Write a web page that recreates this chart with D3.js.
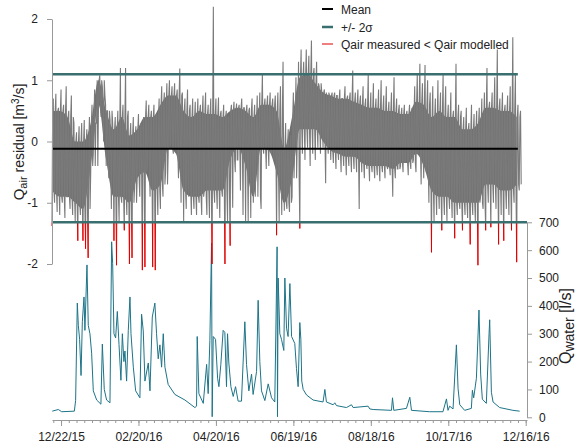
<!DOCTYPE html>
<html><head><meta charset="utf-8">
<script src="https://cdn.jsdelivr.net/npm/d3@7"></script>
<style>
body{margin:0;background:#fff}
svg{display:block}
text{font-family:"Liberation Sans",Arial,sans-serif;fill:#222}
</style>
</head><body>
<svg id="chart" width="577" height="448"></svg>
<script>
// ---------- data ----------
const startDate = "2015-12-15";      // first day of the record
const endDate = "2016-12-17";
const residStepDays = 2;             // one low/high pair per 2 days
const residHi = [0.7,0.78,0.55,0.85,0.6,0.9,0.5,0.75,0.3,0.15,
  0.25,0.3,0.35,0.2,0.4,0.6,0.85,1.0,1.08,0.9,
  0.75,0.5,0.35,0.3,0.4,0.5,1.2,0.6,1.2,0.5,
  0.3,0.4,0.25,0.45,0.3,0.4,0.67,0.6,0.5,0.6,
  0.45,0.7,0.9,0.8,0.95,1.0,0.9,0.95,0.85,1.19,
  0.8,0.7,0.85,0.6,0.7,0.65,0.7,0.6,0.75,0.8,
  0.6,0.7,2.2,0.7,0.72,0.5,0.6,0.5,0.4,0.6,
  0.65,0.62,0.6,0.7,0.55,0.6,0.55,0.7,0.6,0.75,
  0.8,1.1,0.7,0.75,0.8,0.7,0.75,0.8,0.9,1.3,
  0.3,0.2,0.1,0.8,1.05,1.3,1.5,1.3,1.5,1.4,
  1.65,1.2,1.3,0.9,0.8,0.85,0.7,0.75,0.8,0.8,
  0.75,0.85,0.7,0.9,0.75,0.8,1.16,0.8,0.85,0.75,
  0.9,0.7,1.1,0.8,0.95,0.7,0.85,1.0,0.75,0.9,
  0.65,0.8,1.05,0.7,0.6,0.55,0.6,0.5,0.6,0.55,
  0.9,1.1,1.27,0.95,1.25,1.0,0.8,0.9,0.7,1.0,
  0.8,1.1,0.9,0.6,0.8,0.5,1.27,0.6,0.5,0.4,
  0.55,0.3,0.6,0.45,0.5,0.55,0.7,0.8,1.2,0.65,
  0.8,1.05,1.5,0.7,0.8,0.6,0.75,0.9,1.7,1.1,
  0.6,0.5];
const residLo = [-1.38,-1.0,-1.15,-1.2,-1.0,-1.25,-0.9,-1.1,-1.2,-1.3,
  -1.62,-1.2,-1.62,-1.75,-1.9,-0.5,-0.2,0.3,0.55,0.4,
  0.0,-0.4,-0.6,-1.1,-1.62,-2.02,-1.3,-1.0,-1.45,-1.2,
  -2.0,-1.9,-0.75,-0.6,-0.9,-2.1,-2.05,-0.4,-0.9,-2.05,
  -2.1,-1.2,-1.1,-0.9,-0.5,-0.2,0.0,-0.2,-0.1,-0.6,
  -1.0,-1.3,-1.1,-0.9,-1.2,-1.1,-1.2,-1.0,-1.2,-0.8,
  -1.2,-1.25,-2.0,-1.0,-1.1,-1.25,-0.9,-2.0,-1.3,-1.7,
  -1.08,-0.5,-0.3,-0.8,-1.2,-1.3,-1.3,-1.25,-1.0,-0.3,
  -0.1,-1.1,-0.2,-0.45,-0.4,-0.2,-0.3,-1.53,-1.3,-1.2,
  -1.13,-1.1,-1.15,-0.9,-0.1,0.0,-1.42,-0.2,-0.3,-0.1,
  -0.4,-0.2,-0.3,-0.1,-0.2,-0.1,-0.68,-0.2,-0.3,-0.35,
  -0.45,-0.3,-0.5,-0.4,-0.55,-0.4,-0.5,-0.45,-0.5,-1.1,
  -0.5,-0.6,-0.45,-0.65,-0.5,-0.6,-0.55,-0.65,-0.5,-0.6,
  -0.45,-0.55,-0.9,-0.6,-0.45,-0.4,-0.5,-0.3,-0.55,-0.45,
  -0.3,-0.5,-0.1,-0.7,-0.6,-0.5,-1.0,-1.81,-1.3,-1.2,
  -1.1,-1.45,-1.2,-1.3,-1.1,-1.25,-1.58,-1.2,-1.1,-1.45,
  -1.2,-1.25,-1.68,-1.2,-1.3,-2.02,-0.9,-1.1,-1.45,-1.0,
  -1.4,-1.0,-1.1,-1.68,-1.2,-1.62,-1.1,-1.2,-1.45,-1.0,
  -1.97,-0.8];
// dense core of the residual cloud, one pair per 6 days
const coreStepDays = 6;
const coreHi = [0.5,0.5,0.4,0.0,0.0,0.3,1.0,0.5,0.2,0.4,
  0.1,0.2,0.4,0.4,0.6,0.75,0.75,0.5,0.4,0.5,
  0.45,0.45,0.4,0.5,0.55,0.5,0.4,0.6,0.6,0.5,
  -0.1,0.4,1.05,1.1,0.95,0.8,0.75,0.7,0.7,0.65,
  0.6,0.55,0.55,0.5,0.5,0.45,0.45,0.65,0.6,0.4,
  0.5,0.4,0.4,0.2,0.2,0.3,0.55,0.55,0.5,0.5,0.4];
const coreLo = [-0.8,-0.9,-0.9,-1.0,-1.1,-0.4,0.6,-0.3,-0.9,-0.9,
  -1.0,-0.6,-0.5,-0.8,-0.7,-0.1,-0.2,-0.8,-0.9,-0.9,
  -0.8,-0.8,-0.8,-0.3,-0.1,-0.4,-0.9,-0.1,-0.15,-0.5,
  -1.0,-0.6,0.2,0.2,0.2,0.0,-0.15,-0.2,-0.25,-0.25,
  -0.35,-0.4,-0.4,-0.4,-0.45,-0.35,-0.35,-0.2,-0.4,-0.8,
  -0.9,-0.9,-1.0,-1.0,-1.0,-1.0,-0.7,-0.7,-0.8,-0.8,-0.7];
const residMean = -0.12;
const residUpper = 1.10;   // mean + 2 sigma
const residLower = -1.32;  // mean - 2 sigma

// water discharge: days since startDate and value [l/s]
const waterDay = [0.2,4.9,7.5,17.3,18.3,19.6,20.4,21.4,22.5,23.5,24.8,25.5,27.1,28.1,29.4,30.7,32,34.6,37.9,39,
  40.5,42.3,44.9,46.2,47,48,49.3,50.6,51.9,53.4,54.5,55.7,56.5,57.8,59.1,60.4,61.2,63,64.8,68.1,
  69.4,70.7,72,74.6,75.9,77.7,79.7,81,82.3,83.6,84.9,86.2,87.5,90,95.2,103,110.7,112,112.5,113.8,
  117.2,119.8,121,122.3,123.6,124.1,124.9,126.7,128.3,129.3,130.8,132.6,133.9,135.2,136,137,138.6,140.4,142.2,144.2,
  146.8,149.4,150.7,152.5,154.6,155.8,158.5,159.7,161,162.3,164.9,167.5,170.1,172.6,174.4,174.7,175.2,176.5,177.8,179.6,
  180.4,181.7,182.9,184.3,185.6,188.1,189.4,190.7,192,192.8,193.5,194.6,197.2,202.3,210,211.4,212.6,217.8,219.1,220.4,
  228.1,232,233.3,244.9,246.2,248.8,263,263.8,264.8,274.6,277.2,278.5,292.6,302.9,305.6,306.8,308.1,310.7,313.3,314.6,
  315.9,319.7,324.9,325.7,326.7,328.8,330.8,332.1,333.4,336.5,338.6,339.1,340.4,341.7,346.8,357.1,362.3];
const waterQ = [22,28,20,22,60,410,330,280,150,343,432,312,547,330,300,230,95,62,47,263,
  100,62,52,630,551,300,285,380,262,133,300,200,238,130,312,432,300,180,95,70,
  370,310,130,195,95,360,410,300,210,260,180,300,180,118,82,62,35,40,290,85,
  50,190,85,275,625,2,290,280,140,110,190,312,305,110,300,195,110,75,110,58,
  58,343,190,95,155,82,165,420,200,95,60,120,70,55,612,2,500,300,280,240,
  500,320,290,480,290,265,175,110,340,280,130,100,80,62,55,100,55,45,52,42,
  35,45,35,40,30,28,25,70,25,32,72,25,20,20,66,25,40,30,260,103,
  45,25,32,97,70,140,385,155,65,50,300,350,90,55,35,25,22];

const xTickLabels = ["12/22/15","02/20/16","04/20/16","06/19/16","08/18/16","10/17/16","12/16/16"];
const minorTickStart = "2015-12-16";
const minorTickStepDays = 6;
const leftTicks = [-2,-1,0,1,2];
const rightTicks = [0,100,200,300,400,500,600,700];
const legendLabels = ["Mean","+/- 2\u03c3","Qair measured < Qair modelled"];
const legendColors = ["#000000","#3a6f70","#e00000"];

// ---------- layout ----------
const svg = d3.select("#chart");
const parseISO = d3.timeParse("%Y-%m-%d");
const parseTick = d3.timeParse("%m/%d/%y");
const t0 = parseISO(startDate);
const dayToDate = d => new Date(t0.getTime() + d * 86400000);

const x = d3.scaleTime().domain([t0, parseISO(endDate)]).range([52, 527]);
const yL = d3.scaleLinear().domain([-2, 2]).range([264, 19]);
const yR = d3.scaleLinear().domain([0, 700]).range([417.3, 222.3]);

// water line
const waterData = waterDay.map((d, i) => ({date: dayToDate(d), q: waterQ[i]}));
svg.append("path").datum(waterData)
  .attr("fill", "none").attr("stroke", "#1d7488").attr("stroke-width", 1)
  .attr("stroke-linejoin", "round")
  .attr("d", d3.line().x(d => x(d.date)).y(d => yR(d.q)));

// residual: dense core + each 2-day step visiting its low, the core top, its high and the core bottom
const defs = svg.append("defs");
defs.append("clipPath").attr("id", "above").append("rect")
  .attr("x", 0).attr("y", 0).attr("width", 577).attr("height", yL(residLower));
defs.append("clipPath").attr("id", "below").append("rect")
  .attr("x", 0).attr("y", yL(residLower)).attr("width", 577).attr("height", 448 - yL(residLower));

const coreData = coreHi.map((h, k) => ({date: dayToDate(k * coreStepDays), hi: h, lo: coreLo[k]}));
svg.append("path").datum(coreData)
  .attr("fill", "#707070").attr("stroke", "none")
  .attr("d", d3.area().curve(d3.curveMonotoneX).x(d => x(d.date)).y0(d => yL(d.lo)).y1(d => yL(d.hi)));

const residData = [];
residLo.forEach((lo, i) => {
  const d = i * residStepDays;
  const k = Math.min(coreHi.length - 1, Math.floor(d / coreStepDays));
  residData.push({date: dayToDate(d), v: lo});
  residData.push({date: dayToDate(d + 0.5), v: coreHi[k]});
  residData.push({date: dayToDate(d + 1), v: residHi[i]});
  residData.push({date: dayToDate(d + 1.5), v: coreLo[k]});
});
const residLine = d3.line().x(d => x(d.date)).y(d => yL(d.v));
svg.append("path").datum(residData).attr("clip-path", "url(#above)")
  .attr("fill", "none").attr("stroke", "#7a7a7a").attr("stroke-width", 1.1)
  .attr("d", residLine);
svg.append("path").datum(residData).attr("clip-path", "url(#below)")
  .attr("fill", "none").attr("stroke", "#e00000").attr("stroke-width", 1)
  .attr("d", residLine);

// reference lines
const lastDate = dayToDate(364);
svg.append("line").attr("x1", x(t0)).attr("x2", x(lastDate) - 4)
  .attr("y1", yL(residUpper)).attr("y2", yL(residUpper))
  .attr("stroke", "#3a6f70").attr("stroke-width", 2.5);
svg.append("line").attr("x1", x(t0)).attr("x2", x(parseISO(endDate)))
  .attr("y1", yL(residLower)).attr("y2", yL(residLower))
  .attr("stroke", "#3a6f70").attr("stroke-width", 2.5);
svg.append("line").attr("x1", x(t0)).attr("x2", x(lastDate) - 4)
  .attr("y1", yL(residMean)).attr("y2", yL(residMean))
  .attr("stroke", "#000").attr("stroke-width", 2);

// axes
function styleAxis(g) {
  g.select(".domain").attr("stroke", "#999");
  g.selectAll(".tick line").attr("stroke", "#999");
  g.selectAll(".tick text").attr("fill", "#222").style("font-size", "12px");
}
const leftAxis = svg.append("g").attr("transform", "translate(52,0)")
  .call(d3.axisLeft(yL).tickValues(leftTicks).tickSize(5).tickSizeOuter(0).tickPadding(9).tickFormat(d3.format("d")))
  .call(styleAxis);
leftAxis.selectAll(".tick text").text(d => d < 0 ? "-" + Math.abs(d) : d);

svg.append("g").attr("transform", "translate(527,0)")
  .call(d3.axisRight(yR).tickValues(rightTicks).tickSize(5).tickSizeOuter(0).tickPadding(7))
  .call(styleAxis);

const majorDates = xTickLabels.map(parseTick);
const minorDates = d3.timeDay.every(1).range(parseISO(minorTickStart), parseISO(endDate))
  .filter((d, i) => i % minorTickStepDays === 0);
svg.append("g").attr("transform", "translate(0,420)")
  .call(d3.axisBottom(x).tickValues(minorDates).tickSize(3).tickSizeOuter(0).tickFormat(""))
  .call(styleAxis);
svg.append("g").attr("transform", "translate(0,420)")
  .call(d3.axisBottom(x).tickValues(majorDates).tickSize(6).tickSizeOuter(0).tickPadding(6)
    .tickFormat((d, i) => xTickLabels[i]))
  .call(styleAxis)
  .call(g => g.select(".domain").remove());

// axis titles
const lt = svg.append("text").attr("transform", "translate(24,142) rotate(-90)")
  .attr("text-anchor", "middle").style("font-size", "14px");
lt.append("tspan").style("font-size", "15px").text("Q");
lt.append("tspan").attr("dy", 3).style("font-size", "11px").text("air");
lt.append("tspan").attr("dy", -3).text(" residual [m");
lt.append("tspan").attr("dy", -5).style("font-size", "10px").text("3");
lt.append("tspan").attr("dy", 5).text("/s]");

const rt = svg.append("text").attr("transform", "translate(571,326) rotate(-90)")
  .attr("text-anchor", "middle").style("font-size", "16px");
rt.append("tspan").text("Q");
rt.append("tspan").attr("dy", 3).style("font-size", "14px").text("water");
rt.append("tspan").attr("dy", -3).text(" [l/s]");

// legend
const lg = svg.append("g").attr("transform", "translate(322,0)");
const legendY = [9, 27, 44];
const legendW = [2, 2.5, 1];
legendLabels.forEach((lab, i) => {
  lg.append("line").attr("x1", 0).attr("x2", 11).attr("y1", legendY[i]).attr("y2", legendY[i])
    .attr("stroke", legendColors[i]).attr("stroke-width", legendW[i]);
  lg.append("text").attr("x", 19).attr("y", legendY[i] + 4.5).style("font-size", "12px").text(lab);
});
</script>
</body></html>
